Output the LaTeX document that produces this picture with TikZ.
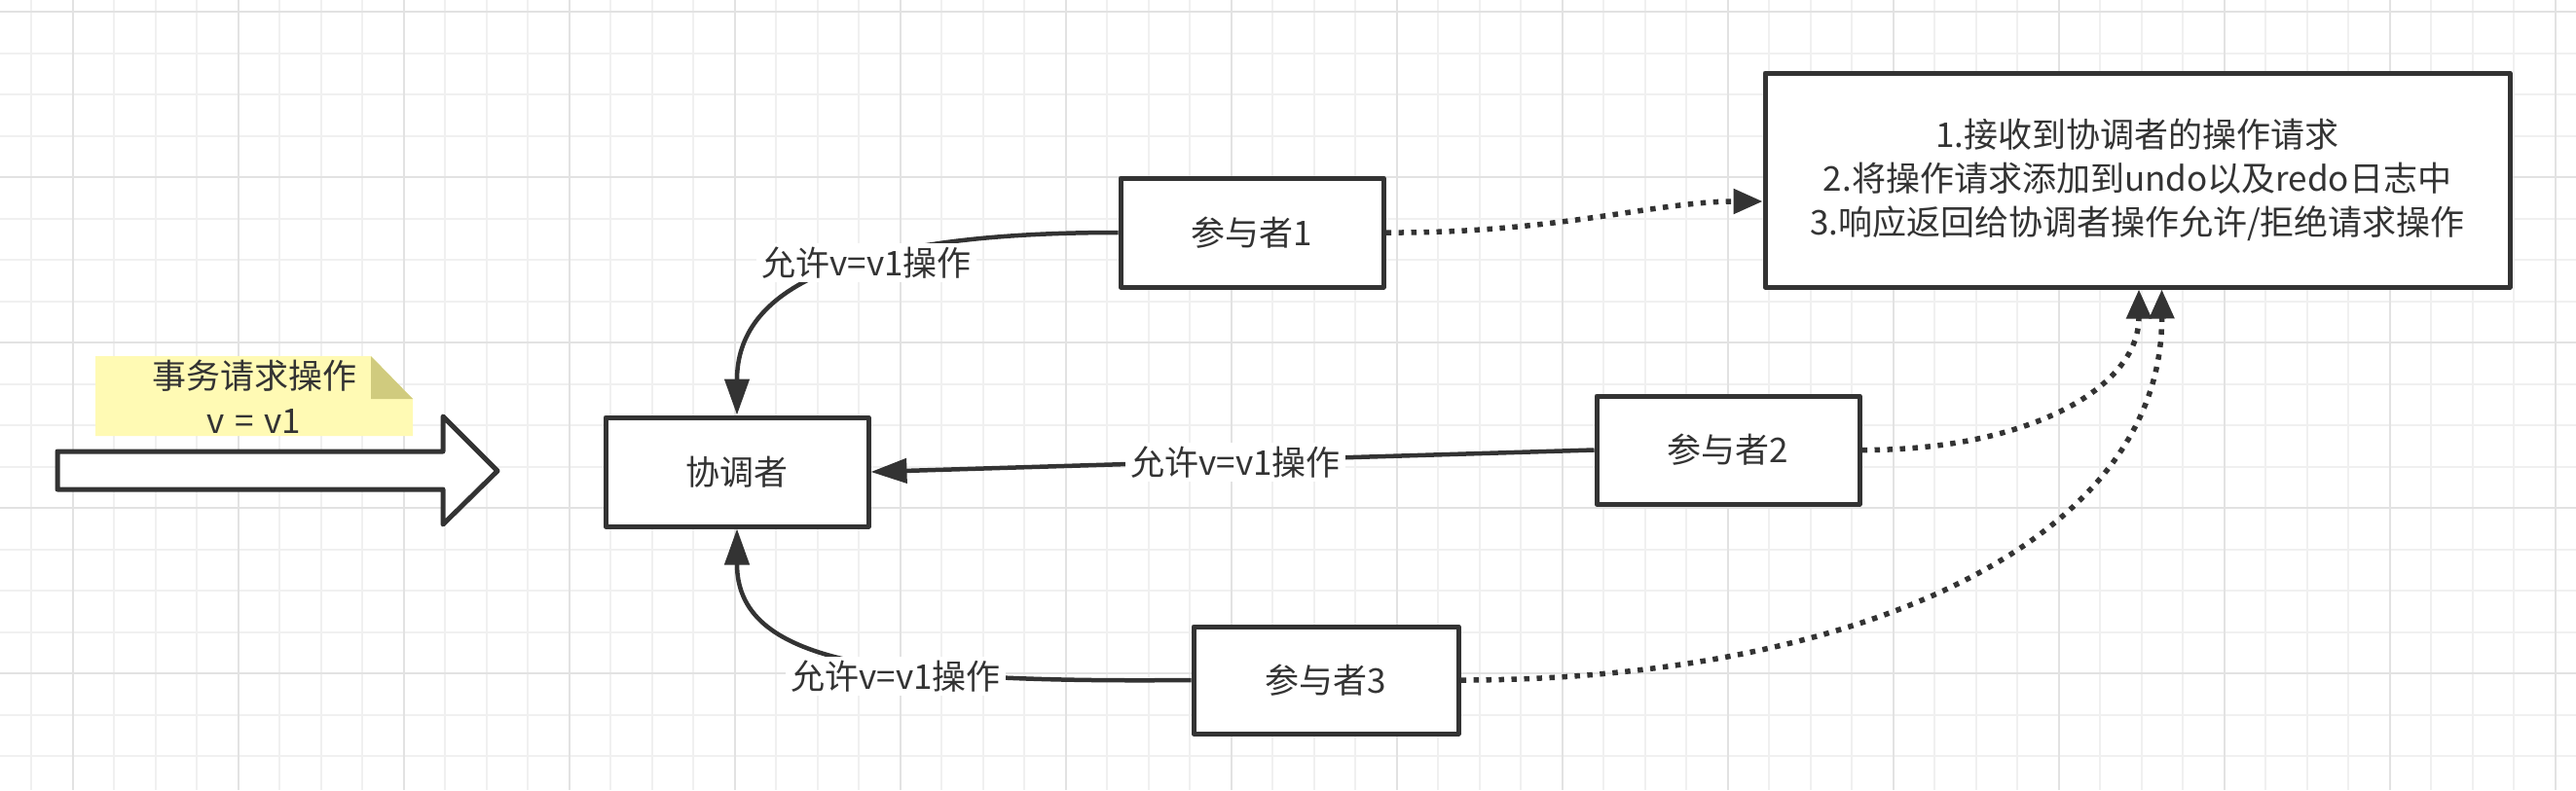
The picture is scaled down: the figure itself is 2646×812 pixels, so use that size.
\documentclass[tikz,border=0pt]{standalone}
\usepackage{fontspec}
\setmainfont{Noto Sans CJK SC}
\usetikzlibrary{arrows.meta}
\definecolor{ink}{HTML}{333333}
\definecolor{gridminor}{HTML}{F0F0F0}
\definecolor{gridmajor}{HTML}{E2E2E2}
\definecolor{notefill}{HTML}{FFFAB4}
\definecolor{notefold}{HTML}{D0CB7E}
\begin{document}
\begin{tikzpicture}[x=1pt,y=-1pt,
  box/.style={draw=ink, line width=5pt, fill=white, minimum width=270pt, minimum height=112pt,
    text=ink, font=\fontsize{35}{45}\selectfont, inner sep=0pt, line join=round},
  elabel/.style={fill=white, text=ink, font=\fontsize{35}{42}\selectfont, inner xsep=5pt, inner ysep=4pt},
  solidarrow/.style={draw=ink, line width=4.5pt, -{Triangle[length=37pt,width=25pt]}},
  dotarrow/.style={draw=ink, line width=5.5pt, dash pattern=on 5.5pt off 7.5pt, -{Triangle[length=30pt,width=25pt]}},
  minorline/.style={draw=gridminor, line width=2pt},
  majorline/.style={draw=gridmajor, line width=2pt}
]
\useasboundingbox (0,0) rectangle (2646,812);
\fill[white] (0,0) rectangle (2646,812);
% grid
\foreach \k in {0,...,61} {\pgfmathsetmacro\gx{32+42.5*\k}\draw[minorline] (\gx,0) -- (\gx,812);}
\foreach \k in {0,...,18} {\pgfmathsetmacro\gy{12+42.5*\k}\draw[minorline] (0,\gy) -- (2646,\gy);}
\foreach \k in {1,5,...,61} {\pgfmathsetmacro\gx{32+42.5*\k}\draw[majorline] (\gx,0) -- (\gx,812);}
\foreach \k in {0,4,...,16} {\pgfmathsetmacro\gy{12+42.5*\k}\draw[majorline] (0,\gy) -- (2646,\gy);}

% note
\fill[notefill] (98,366) -- (381,366) -- (424,410) -- (424,448) -- (98,448) -- cycle;
\fill[notefold] (381,366) -- (381,410) -- (424,410) -- cycle;
\node[text=ink, font=\fontsize{35}{46}\selectfont, align=center, inner sep=0pt] (notetext) at (261,408) {事务请求操作\\v\hspace{0.3em}=\hspace{0.3em}v1};

% big block arrow
\draw[ink, line width=5pt, fill=white, line join=round]
  (59,464) -- (455,464) -- (455,428) -- (511,484) -- (455,539) -- (455,503) -- (59,503) -- cycle;

% nodes
\node[box] (coord) at (757,485) {协调者};
\node[box] (p1) at (1286,239) {参与者1};
\node[box, minimum height=111pt] (p2) at (1775,462.5) {参与者2};
\node[box, minimum width=272pt, minimum height=110pt] (p3) at (1362,699) {参与者3};
\node[box, minimum width=765pt, minimum height=220pt, align=center] (big) at (2195.5,185)
  {1.接收到协调者的操作请求\\2.将操作请求添加到undo以及redo日志中\\3.响应返回给协调者操作允许/拒绝请求操作};

% solid connectors
\draw[solidarrow] (p1.west) .. controls (860,239) and (757,300) .. (coord.north);
\draw[solidarrow] (p2.west) -- (coord.east);
\draw[solidarrow] (p3.west) .. controls (900,702) and (757,680) .. (coord.south);

% dotted connectors
\draw[dotarrow] (p1.east) .. controls (1600,240) and (1700,207) .. ([yshift=-22pt]big.west);
\draw[dotarrow] (p2.east) .. controls (2080,463) and (2197,400) .. ([xshift=1.5pt]big.south);
\draw[dotarrow] (p3.east) .. controls (1900,699) and (2221,560) .. ([xshift=25pt]big.south);

% edge labels
\node[elabel] (l1) at (890,270) {允许v=v1操作};
\node[elabel] (l2) at (1269,475) {允许v=v1操作};
\node[elabel] (l3) at (920,695) {允许v=v1操作};
\end{tikzpicture}
\end{document}
